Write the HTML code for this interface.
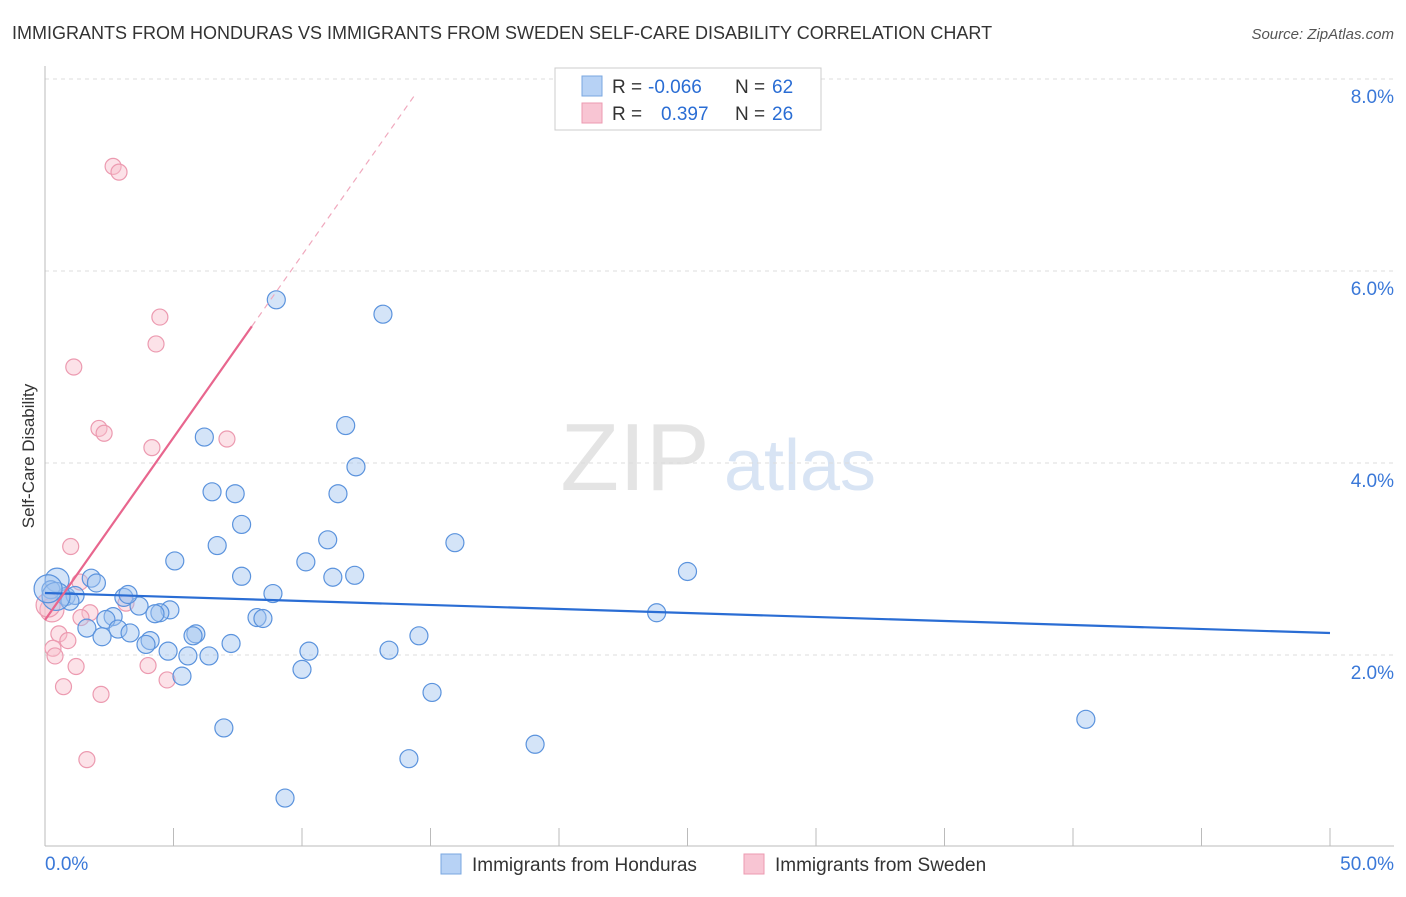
<!DOCTYPE html>
<html><head><meta charset="utf-8"><style>
body{margin:0;background:#fff;font-family:"Liberation Sans",sans-serif}
svg text{font-family:"Liberation Sans",sans-serif}
</style></head><body>
<svg id="c" width="1406" height="892" xmlns="http://www.w3.org/2000/svg">
<text x="12" y="39" font-size="18" fill="#333">IMMIGRANTS FROM HONDURAS VS IMMIGRANTS FROM SWEDEN SELF-CARE DISABILITY CORRELATION CHART</text>
<text x="1394" y="39" font-size="15" fill="#555" font-style="italic" text-anchor="end">Source: ZipAtlas.com</text>
<text x="34" y="456" font-size="17" fill="#333" text-anchor="middle" transform="rotate(-90 34 456)">Self-Care Disability</text>
<g><text x="635" y="490" font-size="96" fill="#e4e4e4" text-anchor="middle" font-family="Liberation Serif">ZIP</text><text x="800" y="490" font-size="72" fill="#d8e4f4" text-anchor="middle">atlas</text></g>
<g id="grid"></g><g id="marks"></g>
<g>
<rect x="555" y="68" width="266" height="62" fill="#fff" stroke="#ccc"/>
<rect x="582" y="76" width="20" height="20" fill="#b7d2f5" stroke="#7aa7e0"/>
<text x="612" y="93" font-size="19" fill="#333">R = </text><text x="648" y="93" font-size="19" fill="#2a6dd4">-0.066</text>
<text x="735" y="93" font-size="19" fill="#333">N = </text><text x="772" y="93" font-size="19" fill="#2a6dd4">62</text>
<rect x="582" y="103" width="20" height="20" fill="#f8c5d3" stroke="#ec9ab0"/>
<text x="612" y="120" font-size="19" fill="#333">R = </text><text x="661" y="120" font-size="19" fill="#2a6dd4">0.397</text>
<text x="735" y="120" font-size="19" fill="#333">N = </text><text x="772" y="120" font-size="19" fill="#2a6dd4">26</text>
</g>
<g>
<rect x="441" y="854" width="20" height="20" fill="#b7d2f5" stroke="#7aa7e0"/>
<text x="472" y="871" font-size="19" fill="#333">Immigrants from Honduras</text>
<rect x="744" y="854" width="20" height="20" fill="#f8c5d3" stroke="#ec9ab0"/>
<text x="775" y="871" font-size="19" fill="#333">Immigrants from Sweden</text>
</g>
</svg>
<script>
const xTicks=[0,5,10,15,20,25,30,35,40,45,50];
const yTicks=[2,4,6,8];
const yTickLabels=["2.0%","4.0%","6.0%","8.0%"];
const hondurasX=[9.0,13.15,11.7,6.2,12.1,6.5,7.4,11.4,7.65,15.95,6.7,11.0,5.05,10.15,25.0,7.65,11.2,12.05,1.8,2.0,0.47,0.23,0.82,1.17,3.07,8.87,3.66,4.86,4.47,4.28,2.65,2.37,8.25,8.48,23.8,1.63,2.84,3.31,4.09,2.22,3.93,5.87,5.76,14.55,7.24,4.79,5.56,6.38,10.27,13.385,10.0,5.33,15.06,40.5,6.96,19.07,14.16,9.34,3.23,0.97,0.43,0.12];
const hondurasY=[5.7,5.55,4.39,4.27,3.96,3.7,3.68,3.68,3.36,3.17,3.14,3.2,2.98,2.97,2.87,2.82,2.81,2.83,2.8,2.75,2.78,2.68,2.61,2.62,2.6,2.64,2.51,2.47,2.44,2.43,2.4,2.37,2.39,2.38,2.44,2.28,2.27,2.23,2.15,2.19,2.11,2.22,2.2,2.2,2.12,2.04,1.99,1.99,2.04,2.05,1.85,1.78,1.61,1.33,1.24,1.07,0.92,0.51,2.63,2.56,2.61,2.69];
const hondurasR=[9,9,9,9,9,9,9,9,9,9,9,9,9,9,9,9,9,9,9,9,12,9,9,9,9,9,9,9,9,9,9,9,9,9,9,9,9,9,9,9,9,9,9,9,9,9,9,9,9,9,9,9,9,9,9,9,9,9,9,9,14,14];
const swedenX=[2.65,2.88,4.47,4.32,1.12,2.1,2.3,7.08,4.16,1.0,1.36,3.15,1.75,1.4,0.54,0.89,0.31,0.39,1.21,4.01,4.75,0.72,2.18,1.63,0.27,0.12];
const swedenY=[7.09,7.03,5.52,5.24,5.0,4.36,4.31,4.25,4.16,3.13,2.76,2.54,2.44,2.39,2.22,2.15,2.07,1.99,1.88,1.89,1.74,1.67,1.59,0.91,2.47,2.52];
const swedenR=[8,8,8,8,8,8,8,8,8,8,8,8,8,8,8,8,8,8,8,8,8,8,8,8,12,12];
const blueTrend=[2.646,2.229];
const pinkTrend=[2.365,0.38];
const NS="http://www.w3.org/2000/svg";
const X0=45,X1=1330,Y0=847,PY=96;
function sx(v){return X0+v/50*(X1-X0);}
function sy(v){return Y0-v*PY;}
function mk(tag,attrs,parent){const e=document.createElementNS(NS,tag);for(const k in attrs)e.setAttribute(k,attrs[k]);parent.appendChild(e);return e;}
const g=document.getElementById('grid'),m=document.getElementById('marks');
yTicks.forEach((t,i)=>{
 const l=mk('line',{x1:45,x2:1394,y1:sy(t),y2:sy(t),stroke:'#ddd','stroke-dasharray':'4,4'},g);
 
 
 const tx=mk('text',{x:1394,y:sy(t)+24,'font-size':19,fill:'#3a78d8','text-anchor':'end'},g);
 tx.textContent=yTickLabels[i];
 
 
});
const ax=mk('line',{x1:45,x2:45,y1:66,y2:846,stroke:'#bbb'},g);


const bx=mk('line',{x1:45,x2:1394,y1:846,y2:846,stroke:'#bbb'},g);


xTicks.forEach(t=>{
 const l=mk('line',{x1:sx(t),x2:sx(t),y1:828,y2:846,stroke:'#bbb'},g);
 
 
});
const xl0=mk('text',{x:45,y:870,'font-size':19,fill:'#3a78d8'},g);xl0.textContent=xTicks[0].toFixed(1)+'%';


const xl1=mk('text',{x:1394,y:870,'font-size':19,fill:'#3a78d8','text-anchor':'end'},g);xl1.textContent=xTicks[xTicks.length-1].toFixed(1)+'%';


swedenX.forEach((x,i)=>{
 const c=mk('circle',{cx:sx(x),cy:sy(swedenY[i]),r:swedenR[i],fill:'rgba(248,190,205,0.45)',stroke:'#ec9ab0','stroke-width':1.2},m);
 
 
});
hondurasX.forEach((x,i)=>{
 const c=mk('circle',{cx:sx(x),cy:sy(hondurasY[i]),r:hondurasR[i],fill:'rgba(160,196,240,0.45)',stroke:'#5b93dd','stroke-width':1.2},m);
 
 
});
const bl=mk('line',{x1:sx(0),y1:sy(blueTrend[0]),x2:sx(50),y2:sy(blueTrend[1]),stroke:'#2a6dd4','stroke-width':2.2},m);


const pe=8.05,pd=14.4;
const pl=mk('line',{x1:sx(0),y1:sy(pinkTrend[0]),x2:sx(pe),y2:sy(pinkTrend[0]+pinkTrend[1]*pe),stroke:'#e8668e','stroke-width':2.2},m);


const pdl=mk('line',{x1:sx(pe),y1:sy(pinkTrend[0]+pinkTrend[1]*pe),x2:sx(pd),y2:sy(pinkTrend[0]+pinkTrend[1]*pd),stroke:'#f0a8bd','stroke-width':1.2,'stroke-dasharray':'6,5'},m);


</script>
</body></html>
